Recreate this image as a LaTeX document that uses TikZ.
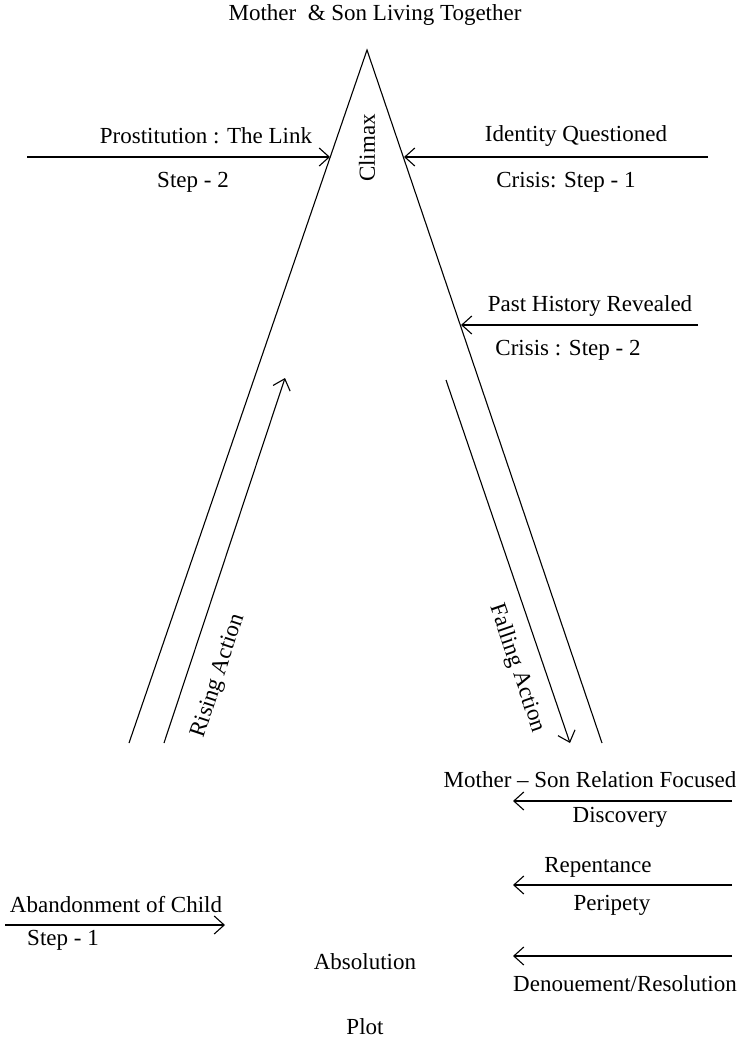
\documentclass[tikz,border=0pt]{standalone}
\usepackage{fontspec}
\setmainfont{Liberation Serif}
\usetikzlibrary{arrows.meta}
\begin{document}
\begin{tikzpicture}[x=1pt,y=-1pt,line width=1.1pt,
  lbl/.style={font=\fontsize{23}{27}\selectfont, inner sep=0pt, anchor=center},
  arr/.style={-{Straight Barb[length=10pt,width=18pt,line width=1.1pt]}}]
\useasboundingbox (0,0) rectangle (748,1041);
% triangle
\coordinate (apex) at (367,50);
\coordinate (lb) at (129,743);
\coordinate (rb) at (602,743);
\draw (lb) -- (apex) -- (rb);
% rising / falling arrows
\coordinate (rs) at (164,743);
\coordinate (re) at (285,378);
\coordinate (fs) at (446,380);
\coordinate (fe) at (570,743);
\draw[arr] (rs) -- (re);
\draw[arr] (fs) -- (fe);
\node[lbl, rotate=71.7] (rising) at (219,676) {Rising Action};
\node[lbl, rotate=-71] (falling) at (517,668) {Falling Action};
% top
\node[lbl] (top) at (375,15) {Mother\ \ \& Son Living Together};
\node[lbl, rotate=90] (climax) at (367,148) {Climax};
% left top arrow
\coordinate (l1s) at (27,157);
\coordinate (l1e) at (330,157);
\draw[arr] (l1s) -- (l1e);
\node[lbl] (prost) at (206,136) {Prostitution : The Link};
\node[lbl] (step2) at (193,182) {Step - 2};
% right top arrow
\coordinate (r1s) at (708,157);
\coordinate (r1e) at (404,157);
\draw[arr] (r1s) -- (r1e);
\node[lbl] (ident) at (576,136) {Identity Questioned};
\node[lbl] (crisis1) at (566,182) {Crisis: Step - 1};
% past history
\coordinate (r2s) at (698,325);
\coordinate (r2e) at (461,325);
\draw[arr] (r2s) -- (r2e);
\node[lbl] (past) at (590,306) {Past History Revealed};
\node[lbl] (crisis2) at (568,350) {Crisis : Step - 2};
% lower right
\coordinate (a1s) at (732,801);
\coordinate (a1e) at (513,801);
\draw[arr] (a1s) -- (a1e);
\node[lbl] (msrel) at (590,780) {Mother -- Son Relation Focused};
\node[lbl] (disc) at (620,817) {Discovery};
\coordinate (a2s) at (732,885);
\coordinate (a2e) at (513,885);
\draw[arr] (a2s) -- (a2e);
\node[lbl] (rep) at (598,867) {Repentance};
\node[lbl] (peri) at (612,905) {Peripety};
\coordinate (a3s) at (732,956);
\coordinate (a3e) at (513,956);
\draw[arr] (a3s) -- (a3e);
\node[lbl] (denoue) at (625,984) {Denouement/Resolution};
% lower left
\coordinate (b1s) at (5,925);
\coordinate (b1e) at (225,925);
\draw[arr] (b1s) -- (b1e);
\node[lbl] (aband) at (116,905) {Abandonment of Child};
\node[lbl] (step1) at (63,940) {Step - 1};
\node[lbl] (absol) at (365,962) {Absolution};
\node[lbl] (plot) at (365,1027) {Plot};
\end{tikzpicture}
\end{document}
